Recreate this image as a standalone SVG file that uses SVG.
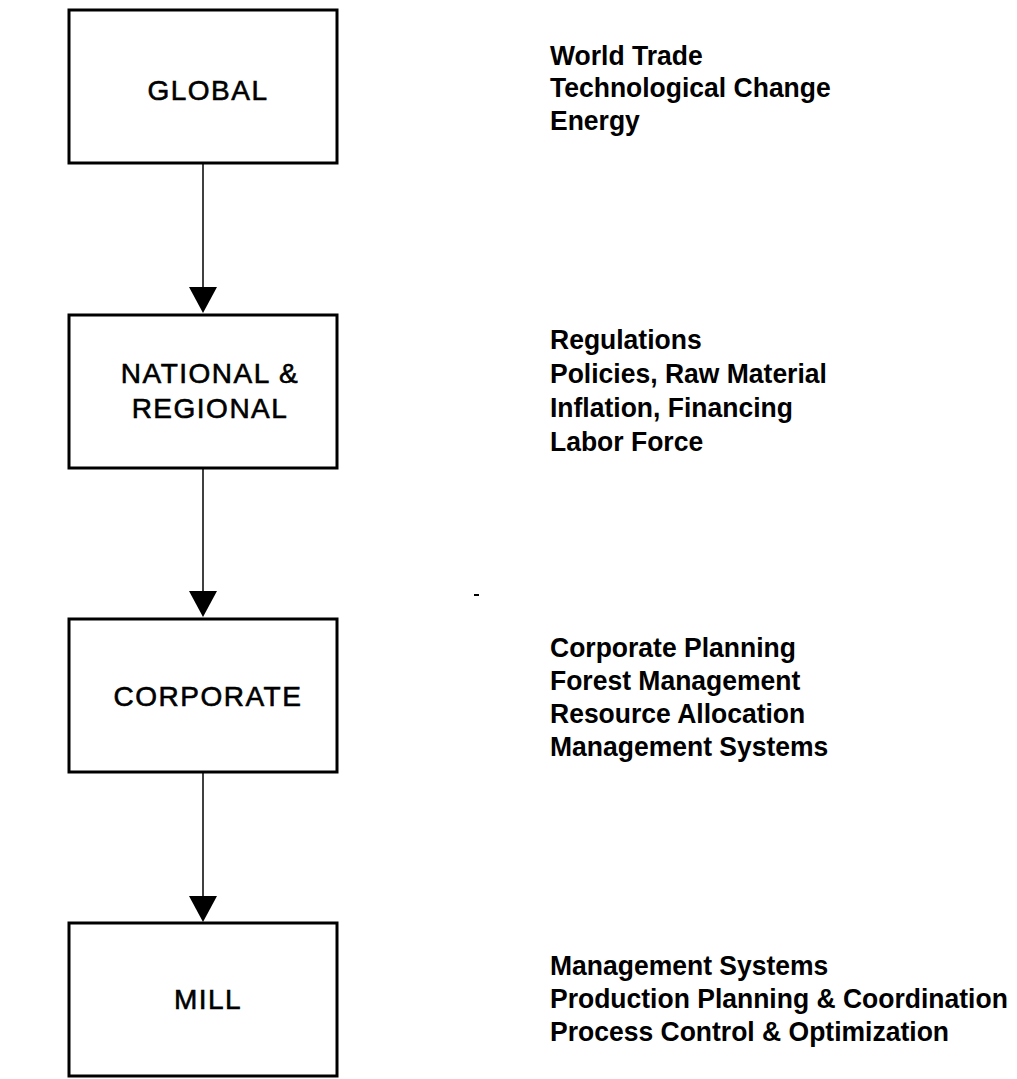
<svg xmlns="http://www.w3.org/2000/svg" width="1017" height="1079" viewBox="0 0 1017 1079">
<style>
.box{fill:#fff;stroke:#000;stroke-width:3}
.lbl{font-family:"Liberation Sans",Arial,sans-serif;font-size:28px;letter-spacing:1.5px;text-anchor:middle;fill:#000;stroke:#000;stroke-width:0.6px}
.info{font-family:"Liberation Sans",Arial,sans-serif;font-size:28.5px;font-weight:bold;fill:#000}
.conn{stroke:#000;stroke-width:1.5;fill:none}
.head{fill:#000}
</style>
<rect width="1017" height="1079" fill="#fff"/>
<g id="connectors">
<line class="conn" x1="203" y1="163" x2="203" y2="290" stroke-width="1"/>
<polygon class="head" points="189,287 217,287 203,313"/>
<line class="conn" x1="203" y1="468" x2="203" y2="594"/>
<polygon class="head" points="189,591 217,591 203,617"/>
<line class="conn" x1="203" y1="772" x2="203" y2="899"/>
<polygon class="head" points="189,896 217,896 203,922"/>
</g>
<g id="global">
<rect class="box" x="69" y="10" width="268" height="153"/>
<text class="lbl" x="208" y="100">GLOBAL</text>
<g transform="translate(550,0) scale(0.93,1)">
<text class="info" x="0" y="65">World Trade</text>
<text class="info" x="0" y="97">Technological Change</text>
<text class="info" x="0" y="130">Energy</text>
</g>
</g>
<g id="national">
<rect class="box" x="69" y="315" width="268" height="153"/>
<text class="lbl" x="210" y="383">NATIONAL &amp;</text>
<text class="lbl" x="210" y="418">REGIONAL</text>
<g transform="translate(550,0) scale(0.93,1)">
<text class="info" x="0" y="349">Regulations</text>
<text class="info" x="0" y="383">Policies, Raw Material</text>
<text class="info" x="0" y="417">Inflation, Financing</text>
<text class="info" x="0" y="451">Labor Force</text>
</g>
</g>
<g id="corporate">
<rect class="box" x="69" y="619" width="268" height="153"/>
<text class="lbl" x="208" y="706">CORPORATE</text>
<g transform="translate(550,0) scale(0.93,1)">
<text class="info" x="0" y="657">Corporate Planning</text>
<text class="info" x="0" y="690">Forest Management</text>
<text class="info" x="0" y="723">Resource Allocation</text>
<text class="info" x="0" y="756">Management Systems</text>
</g>
</g>
<g id="mill">
<rect class="box" x="69" y="923" width="268" height="153"/>
<text class="lbl" x="208" y="1009">MILL</text>
<g transform="translate(550,0) scale(0.93,1)">
<text class="info" x="0" y="975">Management Systems</text>
<text class="info" x="0" y="1008">Production Planning &amp; Coordination</text>
<text class="info" x="0" y="1041">Process Control &amp; Optimization</text>
</g>
</g>
<rect x="474" y="594" width="5" height="2" fill="#000"/>
</svg>
